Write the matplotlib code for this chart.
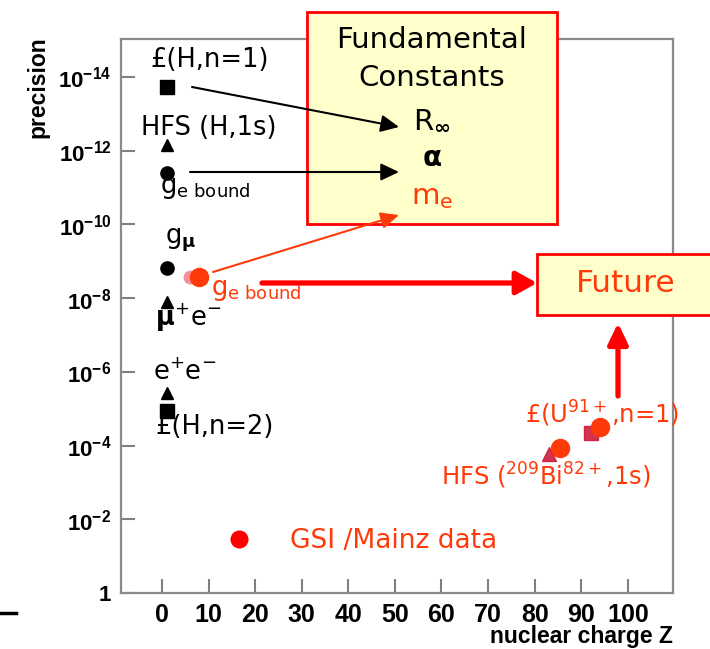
import matplotlib
matplotlib.use("Agg")
import matplotlib.pyplot as plt
from matplotlib.lines import Line2D
from matplotlib.patches import Rectangle, FancyArrowPatch

# data (precision vs nuclear charge Z)
sq_z = [1, 1]
sq_prec = [1.9e-14, 1.15e-5]
tri_z = [1, 1, 1]
tri_prec = [6.9e-13, 1.26e-8, 3.7e-6]
circ_z = [1, 1]
circ_prec = [4.0e-12, 1.5e-9]

hci_tri_z = [83]
hci_tri_prec = [1.66e-4]
hci_sq_z = [92]
hci_sq_prec = [4.5e-5]
blur_z = [6]
blur_prec = [2.6e-9]

gsi_z = [8, 85.5, 94]
gsi_prec = [2.6e-9, 1.2e-4, 3.2e-5]

ytick_exp = [-14, -12, -10, -8, -6, -4, -2, 0]
xticks = [0, 10, 20, 30, 40, 50, 60, 70, 80, 90, 100]

RED = "#ff0000"
ORANGE = "#ff3a0a"
W, H = 710, 649

plt.rcParams["font.family"] = ["DejaVu Sans"]
plt.rcParams["mathtext.fontset"] = "custom"
plt.rcParams["mathtext.rm"] = "DejaVu Sans"
plt.rcParams["mathtext.it"] = "DejaVu Sans:italic"
plt.rcParams["mathtext.bf"] = "DejaVu Sans:bold"
plt.rcParams["mathtext.sf"] = "Liberation Sans:bold"

fig = plt.figure(figsize=(W / 100, H / 100), dpi=100)


def fp(x, y):
    # pixel position in the picture -> figure fraction
    return x / W, 1 - y / H


ax = fig.add_axes([121 / W, 1 - 593 / H, (673 - 121) / W, (593 - 39) / H])
ax.set_yscale("log")
ax.set_xlim(-8.8, 109.7)
ax.set_ylim(1, 10 ** -15.03)

ax.plot(sq_z, sq_prec, "s", color="black", ms=10)
ax.plot(tri_z, tri_prec, "^", color="black", ms=9)
ax.plot(circ_z, circ_prec, "o", color="black", ms=9.5)
ax.plot(hci_tri_z, hci_tri_prec, "^", color="#cc1133", ms=10, alpha=0.85)
ax.plot(hci_sq_z, hci_sq_prec, "s", color="#cc1133", ms=10, alpha=0.85)
ax.plot(blur_z, blur_prec, "o", color="#e83848", ms=10, alpha=0.55, mec="none")
ax.plot(gsi_z, gsi_prec, "o", color=ORANGE, ms=14, mec="none", zorder=4)

ax.set_yticks([10.0 ** e for e in ytick_exp])
ax.set_yticklabels([r"$\mathsf{10^{%d}}$" % e if e != 0 else r"$\mathsf{1}$" for e in ytick_exp])
ax.yaxis.set_minor_locator(matplotlib.ticker.NullLocator())
ax.set_xticks(xticks)
ax.set_xticklabels([str(t) for t in xticks], fontfamily="Liberation Sans", fontweight="bold")
ax.tick_params(direction="in", length=10, width=1.5, color="#808080", pad=7)
ax.tick_params(axis="y", labelsize=16)
ax.tick_params(axis="x", labelsize=18)
for sp in ax.spines.values():
    sp.set_color("#8a8a8a")
    sp.set_linewidth(1.6)

ax.set_ylabel("precision", fontfamily="Liberation Sans", fontweight="bold", fontsize=16.5)
ax.yaxis.set_label_coords(-0.13, 0.913)
ax.set_xlabel("nuclear charge Z", fontfamily="Liberation Sans", fontweight="bold",
              fontsize=16.5, ha="right")
ax.xaxis.set_label_coords(1.0, -0.058)

leg = ax.legend(handles=[Line2D([], [], marker="o", ls="none", color=RED, ms=13, mec="none")],
                labels=["GSI /Mainz data"], loc="center left",
                bbox_to_anchor=fp(227, 541), bbox_transform=fig.transFigure,
                frameon=False, borderpad=0, borderaxespad=0, handlelength=0.9,
                handletextpad=1.5, prop=dict(size=19), labelcolor=ORANGE)

# boxes
fig.add_artist(Rectangle(fp(307, 224), (557 - 307) / W, (224 - 12) / H,
                         transform=fig.transFigure, fc="#ffffcc", ec=RED, lw=2, zorder=1))
fig.add_artist(Rectangle(fp(537, 315), (720 - 537) / W, (315 - 254) / H,
                         transform=fig.transFigure, fc="#ffffcc", ec=RED, lw=2, zorder=1))

fig.text(*fp(432, 40), "Fundamental", fontsize=21, ha="center", va="center", zorder=3)
fig.text(*fp(432, 78), "Constants", fontsize=21, ha="center", va="center", zorder=3)
fig.text(*fp(432, 120), r"R$_{\mathbf{\infty}}$", fontsize=21, ha="center", va="center", zorder=3)
fig.text(*fp(432, 158), "α", fontsize=20, fontweight="bold", ha="center", va="center", zorder=3)
fig.text(*fp(432, 197), r"m$_{\mathrm{e}}$", fontsize=21, color=ORANGE, ha="center",
         va="center", zorder=3)
fig.text(*fp(626, 284), "Future", fontsize=22.5, color=ORANGE, ha="center", va="center", zorder=3)

# point labels
labels = [
    (150, 60, "£(H,n=1)", "black", 18.5),
    (141, 128, "HFS (H,1s)", "black", 18.5),
    (160, 188, r"g$_{\mathrm{e\ bound}}$", "black", 18.5),
    (165, 240, r"g$_{\mathbf{\mu}}$", "black", 18.5),
    (211, 290, r"g$_{\mathrm{e\ bound}}$", ORANGE, 18.5),
    (155, 318, r"$\mathbf{\mu}^{+}\mathrm{e}^{-}$", "black", 18.5),
    (153, 373, r"$\mathrm{e}^{+}\mathrm{e}^{-}$", "black", 18.5),
    (155, 427, "£(H,n=2)", "black", 18.5),
    (525, 414, r"£(U$^{91+}$,n=1)", ORANGE, 17.5),
    (441, 476, r"HFS ($^{209}$Bi$^{82+}$,1s)", ORANGE, 17.5),
]
for x, y, s, c, fs in labels:
    fig.text(*fp(x, y), s, fontsize=fs, color=c, ha="left", va="center", zorder=3)

# arrows
arrows = [
    ((192, 87), (399, 127), "black", 1.5, "-|>,head_length=11,head_width=5.2"),
    ((190, 172), (399, 172), "black", 1.5, "-|>,head_length=11,head_width=5.2"),
    ((213, 272), (399, 215), ORANGE, 1.5, "-|>,head_length=11,head_width=5"),
    ((262, 283), (537, 283), RED, 3.8, "-|>,head_length=12.5,head_width=7"),
    ((618, 396), (618, 323), RED, 3.8, "-|>,head_length=12.5,head_width=6"),
]
for a, b, c, lw, style in arrows:
    fig.add_artist(FancyArrowPatch(fp(*a), fp(*b), transform=fig.transFigure,
                                   arrowstyle=style, mutation_scale=1, color=c, lw=lw,
                                   shrinkA=0, shrinkB=0, zorder=2))

fig.add_artist(Line2D([0, 16 / W], [1 - 613 / H] * 2, transform=fig.transFigure,
                      color="black", lw=2.5))

fig.savefig("out.png", dpi=100)
